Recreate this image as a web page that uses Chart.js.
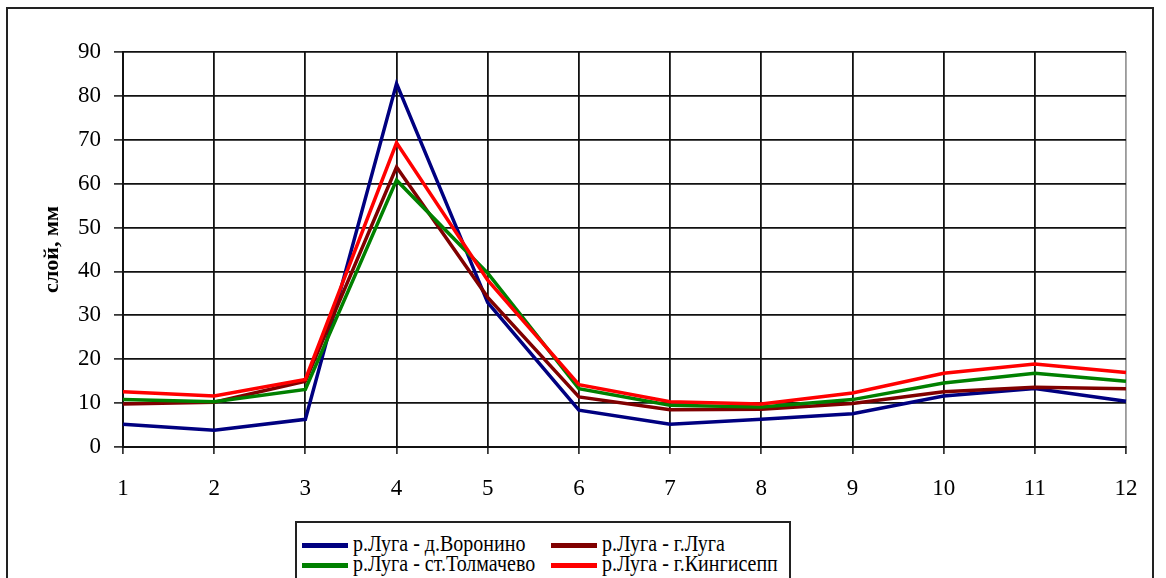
<!DOCTYPE html>
<html lang="ru">
<head>
<meta charset="utf-8">
<title>слой, мм</title>
<script src="https://cdn.jsdelivr.net/npm/chart.js@4.4.1/dist/chart.umd.min.js"></script>
<style>
  html, body { margin: 0; padding: 0; background: #fff; overflow: hidden; }
  #wrap { position: relative; width: 1166px; height: 578px; }
  #frame {
    position: absolute; left: 6px; top: 7px; width: 1148px; height: 620px;
    border: 2px solid #222; box-sizing: border-box;
  }
  #c { position: absolute; left: 0; top: 0; }
  #legend {
    position: absolute; left: 295px; top: 521px; width: 496px; height: 80px;
    border: 2px solid #222; box-sizing: border-box; background: #fff;
    font-family: "Liberation Serif", "Times New Roman", serif; color: #000;
  }
  .item { position: absolute; height: 20px; }
  .swatch { position: absolute; left: 0; top: 8px; width: 46px; height: 5px; }
  .label {
    position: absolute; left: 51px; top: -4px; white-space: nowrap;
    font-size: 20px; line-height: 24px;
    transform: scaleY(1.18); transform-origin: 0 50%;
  }
</style>
</head>
<body>
<div id="wrap">
  <canvas id="c" width="1166" height="578"></canvas>
  <div id="frame"></div>
  <div id="legend"></div>
</div>
<script>
// Месяцы (1–12) и слой стока, мм, по четырём створам р. Луга
const months = ['1', '2', '3', '4', '5', '6', '7', '8', '9', '10', '11', '12'];

const voronino   = [5.2, 3.8, 6.3, 82.8, 32.9, 8.4, 5.2, 6.3, 7.6, 11.6, 13.3, 10.4];
const luga       = [9.8, 10.2, 15.0, 63.8, 34.1, 11.4, 8.5, 8.6, 9.9, 12.6, 13.6, 13.3];
const tolmachevo = [10.8, 10.3, 13.1, 60.8, 39.6, 13.3, 9.5, 9.1, 10.8, 14.6, 16.8, 15.0];
const kingisepp  = [12.6, 11.6, 15.4, 69.3, 38.0, 14.2, 10.3, 9.8, 12.3, 16.8, 18.9, 17.0];

const yTicks = [0, 10, 20, 30, 40, 50, 60, 70, 80, 90];

const seriesNames  = ['р.Луга - д.Воронино', 'р.Луга - г.Луга', 'р.Луга - ст.Толмачево', 'р.Луга - г.Кингисепп'];
const seriesColors = ['#000080', '#800000', '#008000', '#ff0000'];
const seriesValues = [voronino, luga, tolmachevo, kingisepp];

const FONT = '"Liberation Serif", "Times New Roman", serif';

const datasets = seriesValues.map((vals, i) => ({
  label: seriesNames[i],
  data: vals,
  borderColor: seriesColors[i],
  backgroundColor: seriesColors[i],
  borderWidth: 3.5,
  pointRadius: 0,
  tension: 0,
  fill: false,
  // later series sit on top
  order: seriesValues.length - i
}));

new Chart(document.getElementById('c'), {
  type: 'line',
  data: { labels: months, datasets },
  options: {
    responsive: false,
    animation: false,
    devicePixelRatio: 1,
    layout: { padding: { left: 7, top: 52, right: 40, bottom: 81 } },
    plugins: { legend: { display: false }, tooltip: { enabled: false } },
    scales: {
      x: {
        type: 'category',
        offset: false,
        afterFit: s => { s.height = 50; },
        grid: {
          color: ctx => ctx.index === months.length - 1 ? '#9a9a9a' : '#111',
          lineWidth: 1.8,
          tickLength: 7,
          tickColor: '#111',
          tickWidth: 1.5
        },
        border: { color: '#111', width: 2 },
        ticks: {
          color: '#000',
          padding: 21,
          maxRotation: 0,
          autoSkip: false,
          font: { family: FONT, size: 23 }
        }
      },
      y: {
        min: 0,
        max: 90,
        afterFit: s => { s.width = 116; },
        afterBuildTicks: s => { s.ticks = yTicks.map(v => ({ value: v })); },
        grid: {
          color: '#111',
          lineWidth: 1.8,
          tickLength: 9,
          tickColor: '#111',
          tickWidth: 1.5
        },
        border: { color: '#111', width: 2 },
        ticks: {
          color: '#000',
          padding: 13,
          font: { family: FONT, size: 23 }
        },
        title: {
          display: true,
          text: 'слой, мм',
          color: '#000',
          padding: { top: 32, bottom: 0 },
          font: { family: FONT, size: 22, weight: 'bold' }
        }
      }
    }
  }
});

// Легенда в рамке, в две колонки
const legend = document.getElementById('legend');
const slots = [
  { left: 5,   top: 12 },  // д.Воронино
  { left: 254, top: 12 },  // г.Луга
  { left: 5,   top: 32 },  // ст.Толмачево
  { left: 254, top: 32 }   // г.Кингисепп
];
seriesNames.forEach((name, i) => {
  const item = document.createElement('div');
  item.className = 'item';
  item.style.left = slots[i].left + 'px';
  item.style.top = slots[i].top + 'px';
  const sw = document.createElement('div');
  sw.className = 'swatch';
  sw.style.background = seriesColors[i];
  const lb = document.createElement('div');
  lb.className = 'label';
  lb.textContent = name;
  item.appendChild(sw);
  item.appendChild(lb);
  legend.appendChild(item);
});
</script>
</body>
</html>
